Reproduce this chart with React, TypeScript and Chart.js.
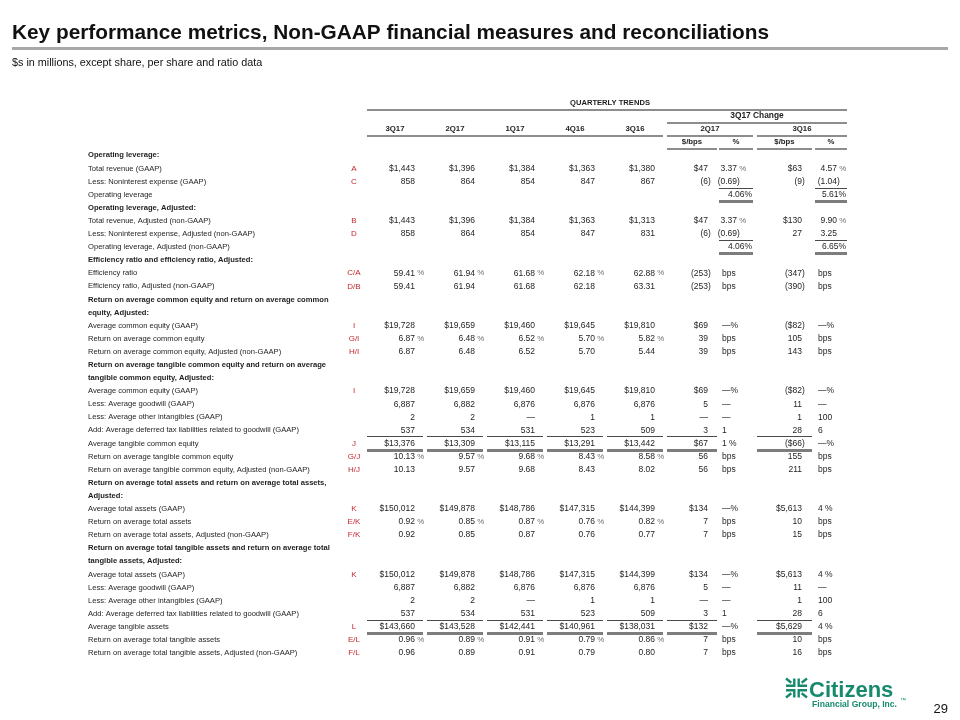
import React, { useEffect, useRef } from "react";
import { Chart, registerables } from "chart.js";

Chart.register(...registerables);

// ---------------- data ----------------
const TITLE = "Key performance metrics, Non-GAAP financial measures and reconciliations";
const SUBTITLE = "$s in millions, except share, per share and ratio data";
const PAGE_NO = "29";
const SECTION_HEADER = "QUARTERLY TRENDS";
const CHANGE_HEADER = "3Q17 Change";
const PERIODS = ["3Q17", "2Q17", "1Q17", "4Q16", "3Q16"];
const CHANGE_PERIODS = ["2Q17", "3Q16"];
const CHANGE_UNITS = ["$/bps", "%", "$/bps", "%"];
const LOGO_NAME = "Citizens";
const LOGO_SUB = "Financial Group, Inc.";

const ROW_LABELS = [
  "Operating leverage:",
  "Total revenue (GAAP)",
  "Less: Noninterest expense (GAAP)",
  "Operating leverage",
  "Operating leverage, Adjusted:",
  "Total revenue, Adjusted (non-GAAP)",
  "Less: Noninterest expense, Adjusted (non-GAAP)",
  "Operating leverage, Adjusted (non-GAAP)",
  "Efficiency ratio and efficiency ratio, Adjusted:",
  "Efficiency ratio",
  "Efficiency ratio, Adjusted (non-GAAP)",
  "Return on average common equity and return on average common",
  "equity, Adjusted:",
  "Average common equity (GAAP)",
  "Return on average common equity",
  "Return on average common equity, Adjusted (non-GAAP)",
  "Return on average tangible common equity and return on average",
  "tangible common equity, Adjusted:",
  "Average common equity (GAAP)",
  "Less: Average goodwill (GAAP)",
  "Less: Average other intangibles (GAAP)",
  "Add: Average deferred tax liabilities related to goodwill (GAAP)",
  "Average tangible common equity",
  "Return on average tangible common equity",
  "Return on average tangible common equity, Adjusted (non-GAAP)",
  "Return on average total assets and return on average total assets,",
  "Adjusted:",
  "Average total assets (GAAP)",
  "Return on average total assets",
  "Return on average total assets, Adjusted (non-GAAP)",
  "Return on average total tangible assets and return on average total",
  "tangible assets, Adjusted:",
  "Average total assets (GAAP)",
  "Less: Average goodwill (GAAP)",
  "Less: Average other intangibles (GAAP)",
  "Add: Average deferred tax liabilities related to goodwill (GAAP)",
  "Average tangible assets",
  "Return on average total tangible assets",
  "Return on average total tangible assets, Adjusted (non-GAAP)",
];
const HEADING_ROWS = [0, 4, 8, 11, 12, 16, 17, 25, 26, 30, 31];

const REFS = [null, "A", "C", null, null, "B", "D", null, null, "C/A", "D/B", null, null, "I", "G/I", "H/I", null, null, "I", null, null, null, "J", "G/J", "H/J", null, null, "K", "E/K", "F/K", null, null, "K", null, null, null, "L", "E/L", "F/L"];

const Q3_17 = [null, "$1,443", "858", null, null, "$1,443", "858", null, null, "59.41 %", "59.41", null, null, "$19,728", "6.87 %", "6.87", null, null, "$19,728", "6,887", "2", "537", "$13,376", "10.13 %", "10.13", null, null, "$150,012", "0.92 %", "0.92", null, null, "$150,012", "6,887", "2", "537", "$143,660", "0.96 %", "0.96"];
const Q2_17 = [null, "$1,396", "864", null, null, "$1,396", "864", null, null, "61.94 %", "61.94", null, null, "$19,659", "6.48 %", "6.48", null, null, "$19,659", "6,882", "2", "534", "$13,309", "9.57 %", "9.57", null, null, "$149,878", "0.85 %", "0.85", null, null, "$149,878", "6,882", "2", "534", "$143,528", "0.89 %", "0.89"];
const Q1_17 = [null, "$1,384", "854", null, null, "$1,384", "854", null, null, "61.68 %", "61.68", null, null, "$19,460", "6.52 %", "6.52", null, null, "$19,460", "6,876", "—", "531", "$13,115", "9.68 %", "9.68", null, null, "$148,786", "0.87 %", "0.87", null, null, "$148,786", "6,876", "—", "531", "$142,441", "0.91 %", "0.91"];
const Q4_16 = [null, "$1,363", "847", null, null, "$1,363", "847", null, null, "62.18 %", "62.18", null, null, "$19,645", "5.70 %", "5.70", null, null, "$19,645", "6,876", "1", "523", "$13,291", "8.43 %", "8.43", null, null, "$147,315", "0.76 %", "0.76", null, null, "$147,315", "6,876", "1", "523", "$140,961", "0.79 %", "0.79"];
const Q3_16 = [null, "$1,380", "867", null, null, "$1,313", "831", null, null, "62.88 %", "63.31", null, null, "$19,810", "5.82 %", "5.44", null, null, "$19,810", "6,876", "1", "509", "$13,442", "8.58 %", "8.02", null, null, "$144,399", "0.82 %", "0.77", null, null, "$144,399", "6,876", "1", "509", "$138,031", "0.86 %", "0.80"];
const CHG_2Q17_AMT = [null, "$47", "(6)", null, null, "$47", "(6)", null, null, "(253)", "(253)", null, null, "$69", "39", "39", null, null, "$69", "5", "—", "3", "$67", "56", "56", null, null, "$134", "7", "7", null, null, "$134", "5", "—", "3", "$132", "7", "7"];
const CHG_2Q17_PCT = [null, "3.37 %", "(0.69)", "4.06%", null, "3.37 %", "(0.69)", "4.06%", null, "bps", "bps", null, null, "—%", "bps", "bps", null, null, "—%", "—", "—", "1", "1 %", "bps", "bps", null, null, "—%", "bps", "bps", null, null, "—%", "—", "—", "1", "—%", "bps", "bps"];
const CHG_3Q16_AMT = [null, "$63", "(9)", null, null, "$130", "27", null, null, "(347)", "(390)", null, null, "($82)", "105", "143", null, null, "($82)", "11", "1", "28", "($66)", "155", "211", null, null, "$5,613", "10", "15", null, null, "$5,613", "11", "1", "28", "$5,629", "10", "16"];
const CHG_3Q16_PCT = [null, "4.57 %", "(1.04)", "5.61%", null, "9.90 %", "3.25", "6.65%", null, "bps", "bps", null, null, "—%", "bps", "bps", null, null, "—%", "—", "100", "6", "—%", "bps", "bps", null, null, "4 %", "bps", "bps", null, null, "4 %", "—", "100", "6", "4 %", "bps", "bps"];

// rows that carry a subtotal rule (thin above, heavy below), per column index
const TOTAL_RULES = [
  { row: 3, cols: [6, 8] },
  { row: 7, cols: [6, 8] },
  { row: 22, cols: [0, 1, 2, 3, 4, 5, 7] },
  { row: 36, cols: [0, 1, 2, 3, 4, 5, 7] },
];

// ---------------- layout / style ----------------
const FONT = '"Liberation Sans", Arial, sans-serif';
const INK = "#1e1e1e";
const PCT_INK = "#6e6e6e";
const REF_RED = "#c4262e";
const HEAD_RULE = "#8d8d8d";
const GREEN = "#168a6c";
const HEADER_SLOTS = 4;
const LABEL_PX = 7.6;
const NUM_PX = 8.5;

const SERIES = [Q3_17, Q2_17, Q1_17, Q4_16, Q3_16, CHG_2Q17_AMT, CHG_2Q17_PCT, CHG_3Q16_AMT, CHG_3Q16_PCT];
// x-scale units
const COLS = [
  { x0: 367, x1: 423, right: 415, kind: "num" },
  { x0: 427, x1: 483, right: 475, kind: "num" },
  { x0: 487, x1: 543, right: 535, kind: "num" },
  { x0: 547, x1: 603, right: 595, kind: "num" },
  { x0: 607, x1: 663, right: 655, kind: "num" },
  { x0: 667, x1: 717, right: 708, kind: "num" },
  { x0: 719, x1: 753, right: 737, left: 722, kind: "pct" },
  { x0: 757, x1: 812, right: 802, kind: "num" },
  { x0: 815, x1: 847, right: 837, left: 818, kind: "pct" },
];
const REF_X = 354;

const font = (px: number, bold = false) => `${bold ? "bold " : ""}${px}px ${FONT}`;

function drawValue(ctx: CanvasRenderingContext2D, text: string, col: any, xs: any, y: number) {
  const px = (v: number) => xs.getPixelForValue(v);
  const isDec = /^\(?-?[\d,]*\.\d+\)?( %)?$/.test(text);
  ctx.font = font(NUM_PX);
  ctx.fillStyle = INK;
  if (col.kind === "pct" && !isDec) {
    if (/^[\d.]+%$/.test(text)) {
      ctx.textAlign = "right";
      ctx.fillText(text, px(col.x1 - 1), y);
    } else {
      ctx.textAlign = "left";
      ctx.fillText(text, px(col.left), y);
    }
    return;
  }
  let core = text;
  let suffix = "";
  if (text.endsWith(" %")) {
    core = text.slice(0, -2);
    suffix = " %";
  } else if (text.startsWith("(") && text.endsWith(")")) {
    core = text.slice(0, -1);
    suffix = ")";
  }
  ctx.textAlign = "right";
  ctx.fillText(core, px(col.right), y);
  if (suffix) {
    ctx.textAlign = "left";
    if (suffix === " %") {
      ctx.fillStyle = PCT_INK;
      ctx.font = font(NUM_PX - 0.6);
    }
    ctx.fillText(suffix, px(col.right), y);
  }
}

function hline(ctx: CanvasRenderingContext2D, x0: number, x1: number, y: number, w: number, color: string) {
  ctx.fillStyle = color;
  ctx.fillRect(x0, Math.round(y - w / 2), x1 - x0, w);
}

function drawLogo(ctx: CanvasRenderingContext2D) {
  const cx = 796.5;
  const cy = 688;
  ctx.save();
  ctx.strokeStyle = GREEN;
  ctx.fillStyle = GREEN;
  ctx.lineWidth = 2.4;
  for (const sx of [-1, 1]) {
    for (const sy of [-1, 1]) {
      ctx.beginPath();
      ctx.moveTo(cx + sx * 10.5, cy + sy * 2.2);
      ctx.lineTo(cx + sx * 2.2, cy + sy * 2.2);
      ctx.lineTo(cx + sx * 2.2, cy + sy * 9.5);
      ctx.stroke();
      ctx.beginPath();
      ctx.moveTo(cx + sx * 5.2, cy + sy * 5.2);
      ctx.lineTo(cx + sx * 10.5, cy + sy * 9.5);
      ctx.stroke();
    }
  }
  ctx.font = `bold 22px ${FONT}`;
  ctx.textAlign = "left";
  ctx.textBaseline = "alphabetic";
  ctx.fillText(LOGO_NAME, 809, 697);
  ctx.font = `bold 8.6px ${FONT}`;
  ctx.fillText(LOGO_SUB, 812, 707);
  ctx.font = `6px ${FONT}`;
  ctx.fillText("™", 900, 702);
  ctx.restore();
}

const tablePlugin = {
  id: "slideTable",
  beforeDraw(chart: any) {
    const { ctx, width, height } = chart;
    ctx.save();
    ctx.fillStyle = "#ffffff";
    ctx.fillRect(0, 0, width, height);
    ctx.restore();
  },
  afterDraw(chart: any) {
    const { ctx } = chart;
    const xs = chart.scales.x;
    const ys = chart.scales.y;
    const X = (v: number) => xs.getPixelForValue(v);
    const Y = (slot: number) => ys.getPixelForValue(slot);
    const between = (a: number, b: number) => (Y(a) + Y(b)) / 2;
    ctx.save();

    // title block
    ctx.fillStyle = "#111";
    ctx.textAlign = "left";
    ctx.textBaseline = "alphabetic";
    ctx.font = `bold 20.8px ${FONT}`;
    ctx.fillText(TITLE, 12, 39);
    hline(ctx, 12, 948, 48, 3, "#a8a8a8");
    ctx.fillStyle = "#111";
    ctx.font = `10.8px ${FONT}`;
    ctx.fillText(SUBTITLE, 12, 66);

    // header rows
    ctx.textBaseline = "middle";
    ctx.fillStyle = INK;
    ctx.textAlign = "center";
    ctx.font = font(7.6, true);
    ctx.fillText(SECTION_HEADER, X((COLS[0].x0 + COLS[8].x1) / 2) + 3, Y(0));
    ctx.font = font(8.4, true);
    ctx.fillText(CHANGE_HEADER, X((COLS[5].x0 + COLS[8].x1) / 2), Y(1));
    ctx.font = font(7.8, true);
    PERIODS.forEach((p, i) => ctx.fillText(p, X((COLS[i].x0 + COLS[i].x1) / 2), Y(2)));
    CHANGE_PERIODS.forEach((p, i) => {
      const a = COLS[5 + i * 2];
      const b = COLS[6 + i * 2];
      ctx.fillText(p, X((a.x0 + b.x1) / 2), Y(2));
    });
    CHANGE_UNITS.forEach((u, i) => {
      const c = COLS[5 + i];
      ctx.fillText(u, X((c.x0 + c.x1) / 2), Y(3));
    });

    // header rules
    hline(ctx, X(COLS[0].x0), X(COLS[8].x1), between(0, 1), 2, HEAD_RULE);
    hline(ctx, X(COLS[5].x0), X(COLS[8].x1), between(1, 2), 2, HEAD_RULE);
    hline(ctx, X(COLS[0].x0), X(COLS[4].x1), between(2, 3), 2, HEAD_RULE);
    hline(ctx, X(COLS[5].x0), X(COLS[6].x1), between(2, 3), 2, HEAD_RULE);
    hline(ctx, X(COLS[7].x0), X(COLS[8].x1), between(2, 3), 2, HEAD_RULE);
    for (let i = 5; i < 9; i++) hline(ctx, X(COLS[i].x0), X(COLS[i].x1), between(3, 4), 2, HEAD_RULE);

    // subtotal rules
    TOTAL_RULES.forEach(({ row, cols }) => {
      const s = row + HEADER_SLOTS;
      cols.forEach((ci) => {
        const c = COLS[ci];
        hline(ctx, X(c.x0), X(c.x1), between(s - 1, s), 1, "#4a4a4a");
        hline(ctx, X(c.x0), X(c.x1), between(s, s + 1), 3, "#7d7d7d");
      });
    });

    // cells
    chart.data.datasets.forEach((ds: any, di: number) => {
      const meta = chart.getDatasetMeta(di);
      meta.data.forEach((el: any, i: number) => {
        const raw = ds.data[i];
        if (ds.colIndex < 0) {
          ctx.font = font(8);
          ctx.fillStyle = REF_RED;
          ctx.textAlign = "center";
          ctx.fillText(raw.v, el.x, el.y);
        } else {
          drawValue(ctx, raw.v, COLS[ds.colIndex], xs, el.y);
        }
      });
    });

    // page number + logo
    ctx.fillStyle = "#111";
    ctx.textAlign = "right";
    ctx.textBaseline = "middle";
    ctx.font = `13px ${FONT}`;
    ctx.fillText(PAGE_NO, 948, 709);
    drawLogo(ctx);
    ctx.restore();
  },
};

export default function App() {
  const ref = useRef<HTMLCanvasElement>(null);
  useEffect(() => {
    const canvas = ref.current;
    if (!canvas) return;
    const toPoints = (arr: (string | null)[], x: number) =>
      arr
        .map((v, r) => (v === null ? null : { x, y: r + HEADER_SLOTS, v }))
        .filter((p) => p !== null);
    const datasets: any[] = [
      { label: "ref", colIndex: -1, data: toPoints(REFS, REF_X) },
      ...SERIES.map((s, i) => ({ label: `col${i}`, colIndex: i, data: toPoints(s, COLS[i].right) })),
    ].map((d) => ({ ...d, pointRadius: 0, pointHoverRadius: 0, showLine: false }));

    const headingSet = new Set(HEADING_ROWS.map((r) => r + HEADER_SLOTS));
    const chart = new Chart(canvas, {
      type: "scatter",
      data: { datasets },
      options: {
        animation: false,
        responsive: false,
        devicePixelRatio: 1,
        events: [],
        layout: { padding: { left: 88, right: 100, top: 103, bottom: 67 } },
        plugins: { legend: { display: false }, tooltip: { enabled: false }, title: { display: false } },
        scales: {
          x: { type: "linear", display: false, min: 340, max: 860 },
          y: {
            type: "linear",
            position: "left",
            reverse: true,
            min: 0,
            max: HEADER_SLOTS + ROW_LABELS.length - 1,
            afterFit: (scale: any) => {
              scale.width = 252;
            },
            grid: { display: false, drawTicks: false },
            border: { display: false },
            ticks: {
              stepSize: 1,
              autoSkip: false,
              padding: 0,
              crossAlign: "far",
              color: INK,
              font: (c: any) => ({
                family: FONT,
                size: LABEL_PX,
                weight: headingSet.has(c.tick ? c.tick.value : -1) ? "bold" : "normal",
              }),
              callback: (v: any) => {
                const r = Math.round(Number(v)) - HEADER_SLOTS;
                return r >= 0 && r < ROW_LABELS.length ? ROW_LABELS[r] : "";
              },
            },
          },
        },
      } as any,
      plugins: [tablePlugin],
    });
    return () => chart.destroy();
  }, []);
  return (
    <div style={{ position: "fixed", left: 0, top: 0, width: 960, height: 720, background: "#fff" }}>
      <canvas ref={ref} width={960} height={720} style={{ display: "block", width: 960, height: 720 }} />
    </div>
  );
}
